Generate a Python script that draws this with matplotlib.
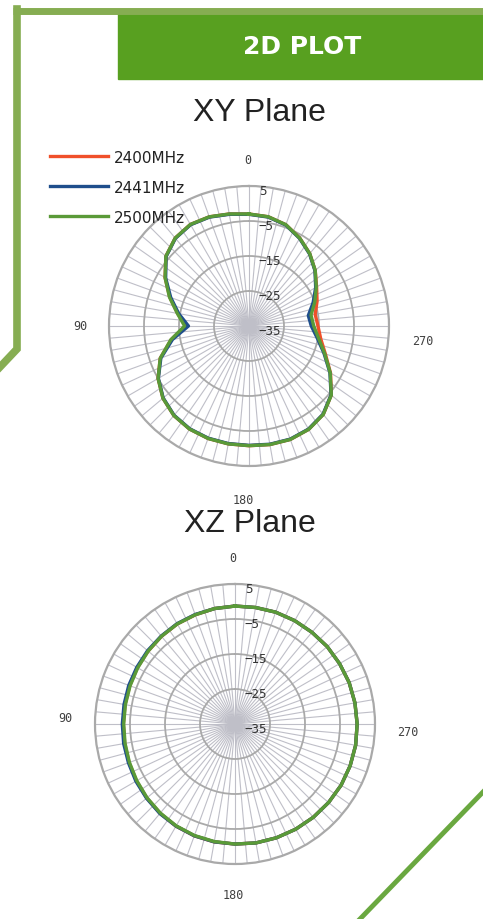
import matplotlib
matplotlib.use("Agg")
import matplotlib.pyplot as plt
from matplotlib.lines import Line2D
import numpy as np

# ── Data ──────────────────────────────────────────────────────────────────────
ANGLES = list(range(0, 360, 10))          # degrees, 0 at top, counter-clockwise
SERIES = ["2400MHz", "2441MHz", "2500MHz"]
COLORS = ["#f0502a", "#1f4e8c", "#5a9a38"]

xy_2400 = [-3.0, -2.5, -1.8, -1.5, -2.2, -4.0, -7.3, -10.9, -14.3, -16.9,
           -12.4, -8.0, -5.0, -2.9, -1.6, -1.0, -0.8, -0.8, -0.8, -0.6,
           -0.5, -0.9, -2.0, -4.3, -8.1, -11.8, -14.2, -15.3, -15.8, -14.3,
           -12.7, -10.3, -8.0, -6.0, -4.2, -3.3]
xy_2441 = [-3.1, -2.6, -1.9, -1.6, -2.3, -4.1, -7.5, -11.2, -14.6, -17.7,
           -12.8, -8.2, -5.1, -3.0, -1.7, -1.1, -0.9, -0.9, -0.9, -0.7,
           -0.6, -1.0, -2.1, -4.4, -8.3, -12.2, -15.2, -17.2, -17.8, -15.5,
           -13.0, -10.4, -8.1, -6.1, -4.3, -3.4]
xy_2500 = [-3.0, -2.5, -1.8, -1.5, -2.2, -4.0, -7.3, -10.8, -14.2, -16.6,
           -12.3, -8.0, -5.0, -2.9, -1.6, -1.0, -0.8, -0.8, -0.8, -0.6,
           -0.5, -0.9, -2.0, -4.3, -8.2, -12.0, -14.8, -16.5, -17.0, -15.0,
           -12.8, -10.3, -8.0, -6.0, -4.2, -3.3]

xz_2400 = [-1.3, -1.5, -1.8, -2.0, -2.3, -2.6, -2.8, -3.0, -3.1, -3.1,
           -3.0, -2.8, -2.5, -2.1, -1.7, -1.3, -1.0, -0.8, -0.7, -0.5,
           -0.4, -0.3, -0.2, -0.1, 0.0, 0.0, 0.0, -0.1, -0.2, -0.3,
           -0.5, -0.6, -0.8, -0.9, -1.0, -1.2]
xz_2441 = [-1.3, -1.5, -1.7, -1.9, -2.2, -2.4, -2.6, -2.7, -2.8, -2.8,
           -2.7, -2.6, -2.3, -2.0, -1.6, -1.3, -1.0, -0.8, -0.7, -0.5,
           -0.4, -0.3, -0.2, -0.1, 0.0, 0.0, 0.0, -0.1, -0.2, -0.3,
           -0.5, -0.6, -0.8, -0.9, -1.0, -1.2]
xz_2500 = [-1.3, -1.5, -1.8, -2.0, -2.3, -2.6, -2.9, -3.1, -3.2, -3.2,
           -3.1, -2.9, -2.6, -2.2, -1.8, -1.4, -1.1, -0.9, -0.7, -0.5,
           -0.4, -0.3, -0.2, -0.1, 0.0, 0.0, 0.0, -0.1, -0.2, -0.3,
           -0.5, -0.6, -0.8, -0.9, -1.0, -1.2]

R_TICKS = [5, -5, -15, -25, -35]
CAT_LABELS = ["0", "90", "180", "270"]

# ── Style ─────────────────────────────────────────────────────────────────────
FRAME_GREEN = "#86ad52"
HEADER_GREEN = "#58a020"
RING = "#a9a9a9"
SPOKE = "#bfbfc8"
W, H = 483, 920


def fig_xy(x, y):
    return x / W, 1 - y / H


def polar_panel(fig, cx, cy, rad, data, title, title_xy, cat_pos):
    ax = fig.add_axes([(cx - rad) / W, 1 - (cy + rad) / H, 2 * rad / W, 2 * rad / H],
                      projection="polar")
    ax.set_theta_zero_location("N")
    ax.set_theta_direction(1)
    ax.set_ylim(-35, 5)
    ax.set_xticks(np.deg2rad(np.arange(0, 360, 5)))
    ax.set_xticklabels([])
    ax.set_yticks([-25, -15, -5])
    ax.set_yticklabels([])
    ax.tick_params(length=0)
    ax.xaxis.grid(True, color=SPOKE, linewidth=0.8)
    ax.yaxis.grid(True, color=RING, linewidth=1.3)
    ax.spines["polar"].set_color(RING)
    ax.spines["polar"].set_linewidth(1.6)
    ax.patch.set_alpha(0)

    theta = np.deg2rad(ANGLES + [ANGLES[0]])
    for vals, col, name in zip(data, COLORS, SERIES):
        ax.plot(theta, vals + [vals[0]], color=col, linewidth=2.4,
                label=name, zorder=5, solid_joinstyle="round")

    for r in R_TICKS:
        ax.annotate(str(r).replace("-", "\u2212"), xy=(0, r), xytext=(7, -3),
                    textcoords="offset points", ha="left", va="center",
                    fontsize=9, family="DejaVu Sans Mono", color="#333333",
                    zorder=6)

    for lab, (x, y) in zip(CAT_LABELS, cat_pos):
        fig.text(*fig_xy(x, y), lab, ha="center", va="center",
                 fontsize=8.5, family="DejaVu Sans Mono", color="#404040")

    fig.text(*fig_xy(*title_xy), title, ha="center", va="center",
             fontsize=23, family="Liberation Sans", color="#222222")
    return ax


fig = plt.figure(figsize=(W / 100, H / 100), dpi=100)
fig.patch.set_facecolor("white")

# frame decoration
fig.add_artist(Line2D([13 / W, 1], [1 - 12 / H] * 2, color=FRAME_GREEN,
                      linewidth=5, solid_capstyle="butt"))
fig.add_artist(Line2D([17 / W, 17 / W, 0], [1 - 10 / H, 1 - 350 / H, 1 - 368 / H],
                      color=FRAME_GREEN, linewidth=5.5, solid_joinstyle="miter"))
fig.add_artist(Line2D([1, 360 / W], [1 - 793 / H, 0], color="#6aa840",
                      linewidth=3.5))

# header
fig.add_artist(plt.Rectangle((118 / W, 1 - 80 / H), 1 - 118 / W, 65 / H,
                             color=HEADER_GREEN, transform=fig.transFigure))
fig.text(*fig_xy(302, 47), "2D PLOT", ha="center", va="center", color="white",
         fontsize=18, fontweight="bold", family="DejaVu Sans")

ax1 = polar_panel(fig, 249, 327, 140, [xy_2400, xy_2441, xy_2500], "XY Plane",
                  (259, 113), [(248, 160), (80, 326), (243, 501), (423, 342)])
ax2 = polar_panel(fig, 235, 725, 140, [xz_2400, xz_2441, xz_2500], "XZ Plane",
                  (250, 524), [(233, 558), (65, 719), (233, 896), (408, 733)])

# legend
handles = [Line2D([], [], color=c, linewidth=2.4) for c in COLORS]
leg = fig.legend(handles, SERIES, loc="upper left",
                 bbox_to_anchor=fig_xy(36, 137), frameon=False,
                 handlelength=3.8, handletextpad=0.4, labelspacing=0.98,
                 prop={"family": "DejaVu Sans", "size": 11})
for t in leg.get_texts():
    t.set_color("#222222")

fig.savefig("out.png", dpi=100, facecolor="white")
